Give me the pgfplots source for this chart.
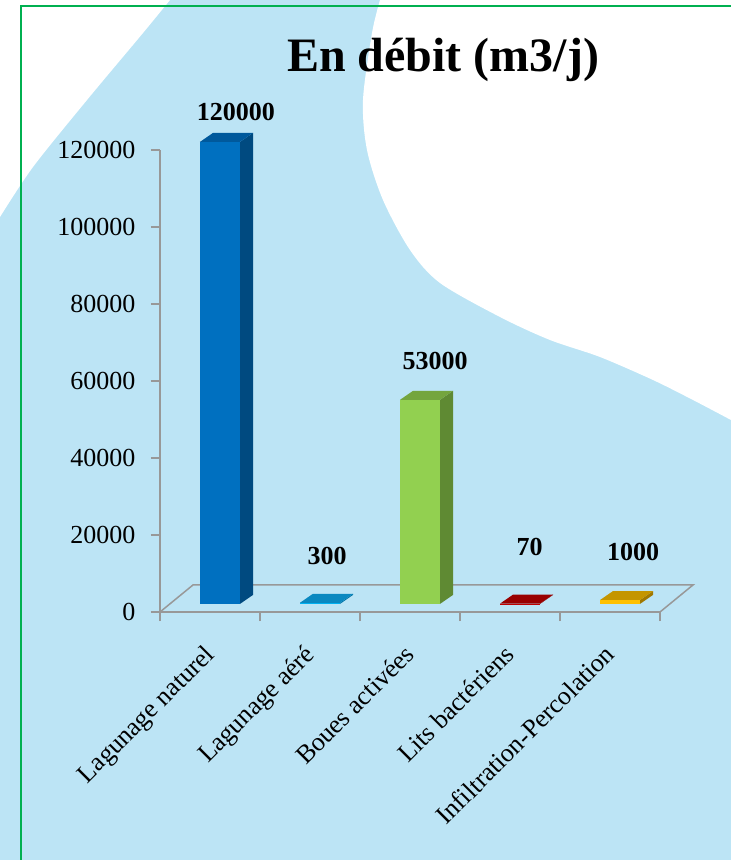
\documentclass[border=0pt]{standalone}
\usepackage{pgfplots}
\pgfplotsset{compat=1.18}
\usepackage{fontspec}
\setmainfont{Liberation Serif}

\definecolor{bgblue}{HTML}{BCE4F5}
\definecolor{bordergreen}{HTML}{00B050}
\definecolor{axisgray}{HTML}{989898}
% front / side / top shades
\definecolor{bluefront}{HTML}{0070C0}
\definecolor{blueside}{HTML}{004A80}
\definecolor{bluetop}{HTML}{00599C}
\definecolor{lbluefront}{HTML}{00B0F0}
\definecolor{lblueside}{HTML}{0075A8}
\definecolor{lbluetop}{HTML}{0A88C0}
\definecolor{greenfront}{HTML}{92D050}
\definecolor{greenside}{HTML}{5F8A33}
\definecolor{greentop}{HTML}{74A53E}
\definecolor{redfront}{HTML}{C00000}
\definecolor{redside}{HTML}{800000}
\definecolor{redtop}{HTML}{990000}
\definecolor{goldfront}{HTML}{FFC000}
\definecolor{goldside}{HTML}{A07800}
\definecolor{goldtop}{HTML}{C49500}

\newcommand{\base}{2100}  % bars stand a little behind the floor's front edge
\newcommand{\depth}{2340} % vertical depth offset in data units
% #1 category, #2 value, #3 front, #4 side, #5 top
\newcommand{\bartd}[5]{%
  \edef\tmp{%
    \noexpand\addplot[fill=#4, draw=none] coordinates {(\fpeval{#1+0.30},\base) (\fpeval{#1+0.43},\fpeval{\base+\depth}) (\fpeval{#1+0.43},\fpeval{#2+\base+\depth}) (\fpeval{#1+0.30},\fpeval{#2+\base})};
    \noexpand\addplot[fill=#5, draw=none] coordinates {(\fpeval{#1-0.10},\fpeval{#2+\base}) (\fpeval{#1+0.30},\fpeval{#2+\base}) (\fpeval{#1+0.43},\fpeval{#2+\base+\depth}) (\fpeval{#1+0.03},\fpeval{#2+\base+\depth})};
    \noexpand\addplot[fill=#3, draw=none] coordinates {(\fpeval{#1-0.10},\base) (\fpeval{#1+0.30},\base) (\fpeval{#1+0.30},\fpeval{#2+\base}) (\fpeval{#1-0.10},\fpeval{#2+\base})};
  }\tmp}

\begin{document}
\begin{tikzpicture}
\useasboundingbox (0pt,0pt) rectangle (731pt,860pt);
\fill[bgblue] (0pt,0pt) rectangle (731pt,860pt);
\fill[white] plot[smooth] coordinates {(170pt,860pt) (143pt,827pt) (87pt,760pt) (33pt,693pt) (0pt,643pt)} -- (0pt,860pt) -- cycle;
\fill[white] plot[smooth] coordinates {(380pt,860pt) (372pt,827pt) (363pt,760pt) (367pt,710pt) (383pt,660pt) (410pt,610pt) (440pt,577pt) (500pt,543pt) (550pt,520pt) (600pt,503pt) (653pt,480pt) (693pt,460pt) (731pt,440pt)} -- (731pt,860pt) -- cycle;
\draw[bordergreen, line width=2pt] (21pt,0pt) -- (21pt,854pt) -- (731pt,854pt);

\begin{axis}[
    at={(160pt,248pt)}, anchor=south west,
    scale only axis, width=500pt, height=462pt,
    xmin=-0.5, xmax=4.5, ymin=0, ymax=120000,
    clip=false,
    axis lines*=left,
    axis line style={draw=axisgray, line width=1.5pt},
    xtick={0,1,2,3,4},
    xticklabels={Lagunage naturel, Lagunage aéré, Boues activées, Lits bactériens, Infiltration-Percolation},
    minor xtick={-0.5,0.5,1.5,2.5,3.5,4.5},
    ytick={0,20000,40000,60000,80000,100000,120000},
    yticklabels={0,20000,40000,60000,80000,100000,120000},
    tick align=outside,
    major tick length=9pt, minor tick length=9pt,
    tick style={draw=axisgray, line width=1.5pt},
    major x tick style={draw=none},
    scaled y ticks=false,
    yticklabel style={font=\fontsize{26}{30}\selectfont, xshift=-12pt},
    xticklabel style={font=\fontsize{26}{30}\selectfont, xshift=-7pt, yshift=-22pt, rotate=45, anchor=north east, inner sep=0pt},
]
% floor of the 3-D plot
\addplot[draw=axisgray, line width=1.5pt] coordinates {(-0.5,0) (-0.17,7020) (4.83,7020) (4.5,0)};

\bartd{0}{120000}{bluefront}{blueside}{bluetop}
\bartd{1}{300}{lbluefront}{lblueside}{lbluetop}
\bartd{2}{53000}{greenfront}{greenside}{greentop}
\bartd{3}{70}{redfront}{redside}{redtop}
\bartd{4}{1000}{goldfront}{goldside}{goldtop}

% value labels
\addplot[only marks, mark=none, point meta=explicit symbolic,
  nodes near coords={\pgfplotspointmeta},
  nodes near coords style={anchor=center, font=\bfseries\fontsize{26}{30}\selectfont}]
  coordinates {(0.26,130000)[120000] (1.17,14560)[300] (2.25,65260)[53000] (3.195,16770)[70] (4.23,15600)[1000]};
\end{axis}

\node[anchor=base, font=\bfseries\fontsize{48}{56}\selectfont] at (443pt,788pt) {En débit (m3/j)};
\end{tikzpicture}
\end{document}
